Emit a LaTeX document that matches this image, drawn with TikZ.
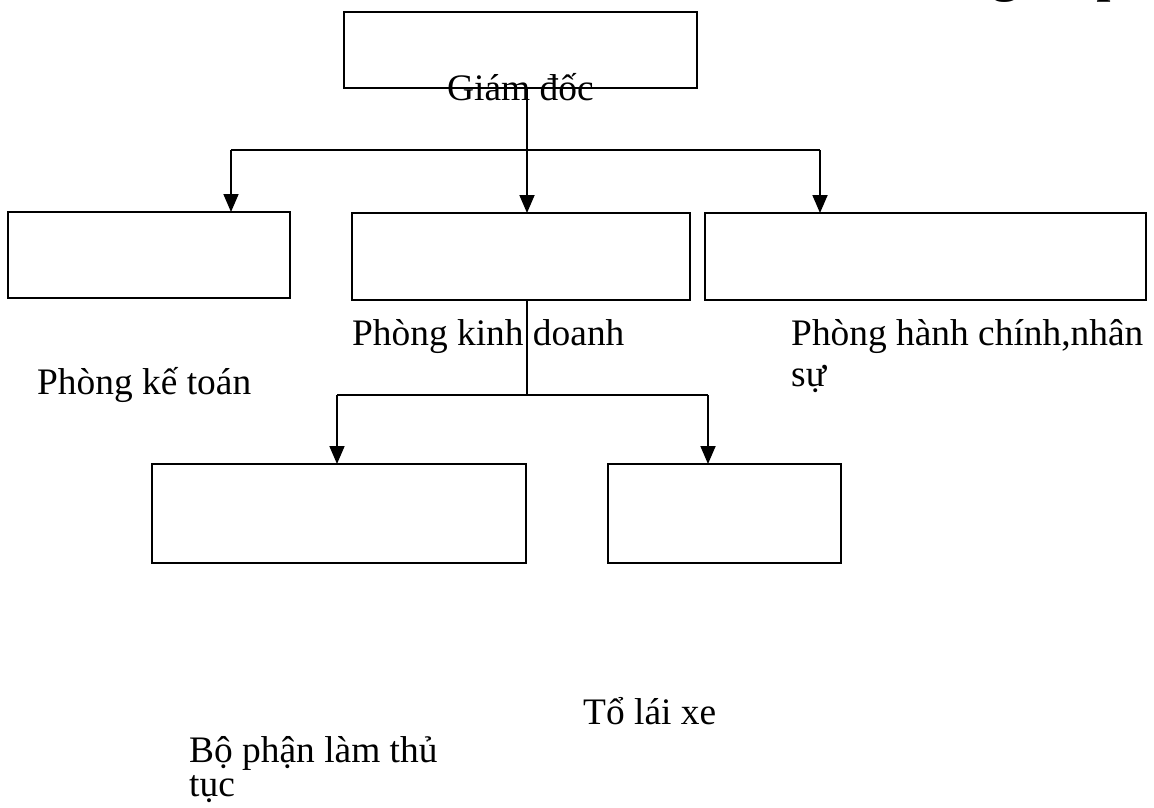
\documentclass[tikz,border=0pt]{standalone}
\usepackage{fontspec}
\setmainfont{Liberation Serif}
\usetikzlibrary{arrows.meta}
\newcommand{\twolines}[3]{\vtop{\baselineskip=#3\hbox{#1}\hbox{#2}}}
\begin{document}
\begin{tikzpicture}[x=1pt,y=-1pt,
  box/.style={draw, line width=1.8pt, inner sep=0pt, outer sep=0pt, rectangle},
  conn/.style={line width=1.8pt},
  arr/.style={conn, -{Triangle[width=15pt,length=18pt]}},
  lbl/.style={inner sep=0pt, anchor=base west, font=\fontsize{37.4}{40}\selectfont}
]
\useasboundingbox (0,0) rectangle (1154,808);
\begin{scope}
\clip (0,0) rectangle (1154,808);
\node[inner sep=0pt, anchor=base west, font=\fontsize{60}{62}\selectfont] (title) at (960,-10) {ng hợp};
\end{scope}
% boxes
\node[box, minimum width=353pt, minimum height=76pt] (gd) at (520.5,50) {};
\node[box, minimum width=282pt, minimum height=86pt] (kt) at (149,255) {};
\node[box, minimum width=338pt, minimum height=87pt] (kd) at (521,256.5) {};
\node[box, minimum width=441pt, minimum height=87pt] (hc) at (925.5,256.5) {};
\node[box, minimum width=374pt, minimum height=99pt] (bp) at (339,513.5) {};
\node[box, minimum width=233pt, minimum height=99pt] (tl) at (724.5,513.5) {};
% connectors
\coordinate (j1) at (527,150);
\coordinate (j1L) at (231,150);
\coordinate (j1R) at (820,150);
\draw[conn] (j1 |- gd.south) -- (j1);
\draw[conn] (j1L) -- (j1R);
\draw[arr] (j1L) -- (j1L |- kt.north);
\draw[arr] (j1) -- (j1 |- kd.north);
\draw[arr] (j1R) -- (j1R |- hc.north);
\coordinate (j2) at (527,395);
\coordinate (j2L) at (337,395);
\coordinate (j2R) at (708,395);
\draw[conn] (j2 |- kd.south) -- (j2);
\draw[conn] (j2L) -- (j2R);
\draw[arr] (j2L) -- (j2L |- bp.north);
\draw[arr] (j2R) -- (j2R |- tl.north);
% labels
\node[lbl] (lgd) at (447,100) {Giám đốc};
\node[lbl] (lkd) at (352,345) {Phòng kinh doanh};
\node[lbl] (lhc) at (791,345) {\twolines{Phòng hành chính,nhân}{sự}{41pt}};
\node[lbl] (lkt) at (37,394) {Phòng kế toán};
\node[lbl] (ltl) at (583,724) {Tổ lái xe};
\node[lbl] (lbp) at (189,762) {\twolines{Bộ phận làm thủ}{tục}{34pt}};
\end{tikzpicture}
\end{document}
